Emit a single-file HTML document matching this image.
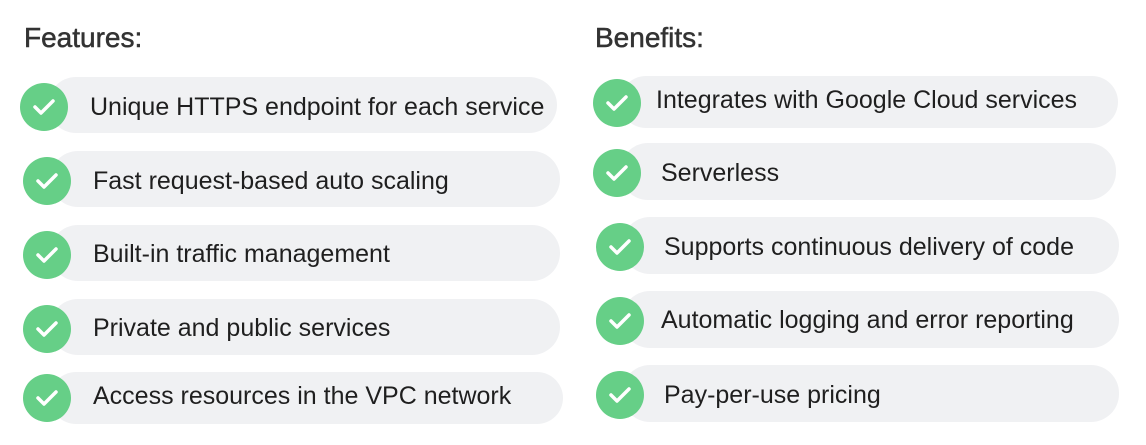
<!DOCTYPE html>
<html><head><meta charset="utf-8"><style>
body{margin:0;width:1146px;height:445px;background:#fff;position:relative;overflow:hidden;font-family:"Liberation Sans",sans-serif;color:#1f1f1f}
.t{position:absolute;font-size:28px;top:22px;color:#333;-webkit-text-stroke:0.5px #333}
.p{position:absolute;background:#f0f1f3;border-radius:28px;height:56px}
.c{position:absolute;width:48px;height:48px;border-radius:50%;background:#66cf87}
.c svg{position:absolute;left:12px;top:14px}
.x{position:absolute;font-size:25px;line-height:28px;white-space:nowrap}
</style></head><body>
<div class="t" style="left:24px">Features:</div>
<div class="t" style="left:595px">Benefits:</div>

<div class="p" style="left:48px;top:77px;width:509px"></div>
<div class="c" style="left:20px;top:83px"><svg width="24" height="20"><path d="M3 10l6 6L21 4" stroke="#fff" stroke-width="3.5" fill="none" stroke-linecap="round" stroke-linejoin="round"/></svg></div>
<div class="x" style="left:90px;top:93px">Unique HTTPS endpoint for each service</div>

<div class="p" style="left:50px;top:151px;width:510px"></div>
<div class="c" style="left:23px;top:157px"><svg width="24" height="20"><path d="M3 10l6 6L21 4" stroke="#fff" stroke-width="3.5" fill="none" stroke-linecap="round" stroke-linejoin="round"/></svg></div>
<div class="x" style="left:93px;top:167px">Fast request-based auto scaling</div>

<div class="p" style="left:50px;top:225px;width:510px"></div>
<div class="c" style="left:23px;top:231px"><svg width="24" height="20"><path d="M3 10l6 6L21 4" stroke="#fff" stroke-width="3.5" fill="none" stroke-linecap="round" stroke-linejoin="round"/></svg></div>
<div class="x" style="left:93px;top:240px">Built-in traffic management</div>

<div class="p" style="left:50px;top:299px;width:510px"></div>
<div class="c" style="left:23px;top:305px"><svg width="24" height="20"><path d="M3 10l6 6L21 4" stroke="#fff" stroke-width="3.5" fill="none" stroke-linecap="round" stroke-linejoin="round"/></svg></div>
<div class="x" style="left:93px;top:314px">Private and public services</div>

<div class="p" style="left:50px;top:372px;width:513px;height:52px"></div>
<div class="c" style="left:23px;top:374px"><svg width="24" height="20"><path d="M3 10l6 6L21 4" stroke="#fff" stroke-width="3.5" fill="none" stroke-linecap="round" stroke-linejoin="round"/></svg></div>
<div class="x" style="left:93px;top:382px">Access resources in the VPC network</div>

<div class="p" style="left:620px;top:76px;width:498px;height:52px"></div>
<div class="c" style="left:593px;top:79px"><svg width="24" height="20"><path d="M3 10l6 6L21 4" stroke="#fff" stroke-width="3.5" fill="none" stroke-linecap="round" stroke-linejoin="round"/></svg></div>
<div class="x" style="left:656px;top:86px">Integrates with Google Cloud services</div>

<div class="p" style="left:620px;top:143px;width:496px;height:57px"></div>
<div class="c" style="left:593px;top:149px"><svg width="24" height="20"><path d="M3 10l6 6L21 4" stroke="#fff" stroke-width="3.5" fill="none" stroke-linecap="round" stroke-linejoin="round"/></svg></div>
<div class="x" style="left:661px;top:159px">Serverless</div>

<div class="p" style="left:622px;top:217px;width:497px;height:57px"></div>
<div class="c" style="left:596px;top:223px"><svg width="24" height="20"><path d="M3 10l6 6L21 4" stroke="#fff" stroke-width="3.5" fill="none" stroke-linecap="round" stroke-linejoin="round"/></svg></div>
<div class="x" style="left:664px;top:233px">Supports continuous delivery of code</div>

<div class="p" style="left:622px;top:291px;width:497px;height:57px"></div>
<div class="c" style="left:596px;top:297px"><svg width="24" height="20"><path d="M3 10l6 6L21 4" stroke="#fff" stroke-width="3.5" fill="none" stroke-linecap="round" stroke-linejoin="round"/></svg></div>
<div class="x" style="left:661px;top:306px">Automatic logging and error reporting</div>

<div class="p" style="left:622px;top:365px;width:497px;height:57px"></div>
<div class="c" style="left:596px;top:371px"><svg width="24" height="20"><path d="M3 10l6 6L21 4" stroke="#fff" stroke-width="3.5" fill="none" stroke-linecap="round" stroke-linejoin="round"/></svg></div>
<div class="x" style="left:664px;top:381px">Pay-per-use pricing</div>
</body></html>
